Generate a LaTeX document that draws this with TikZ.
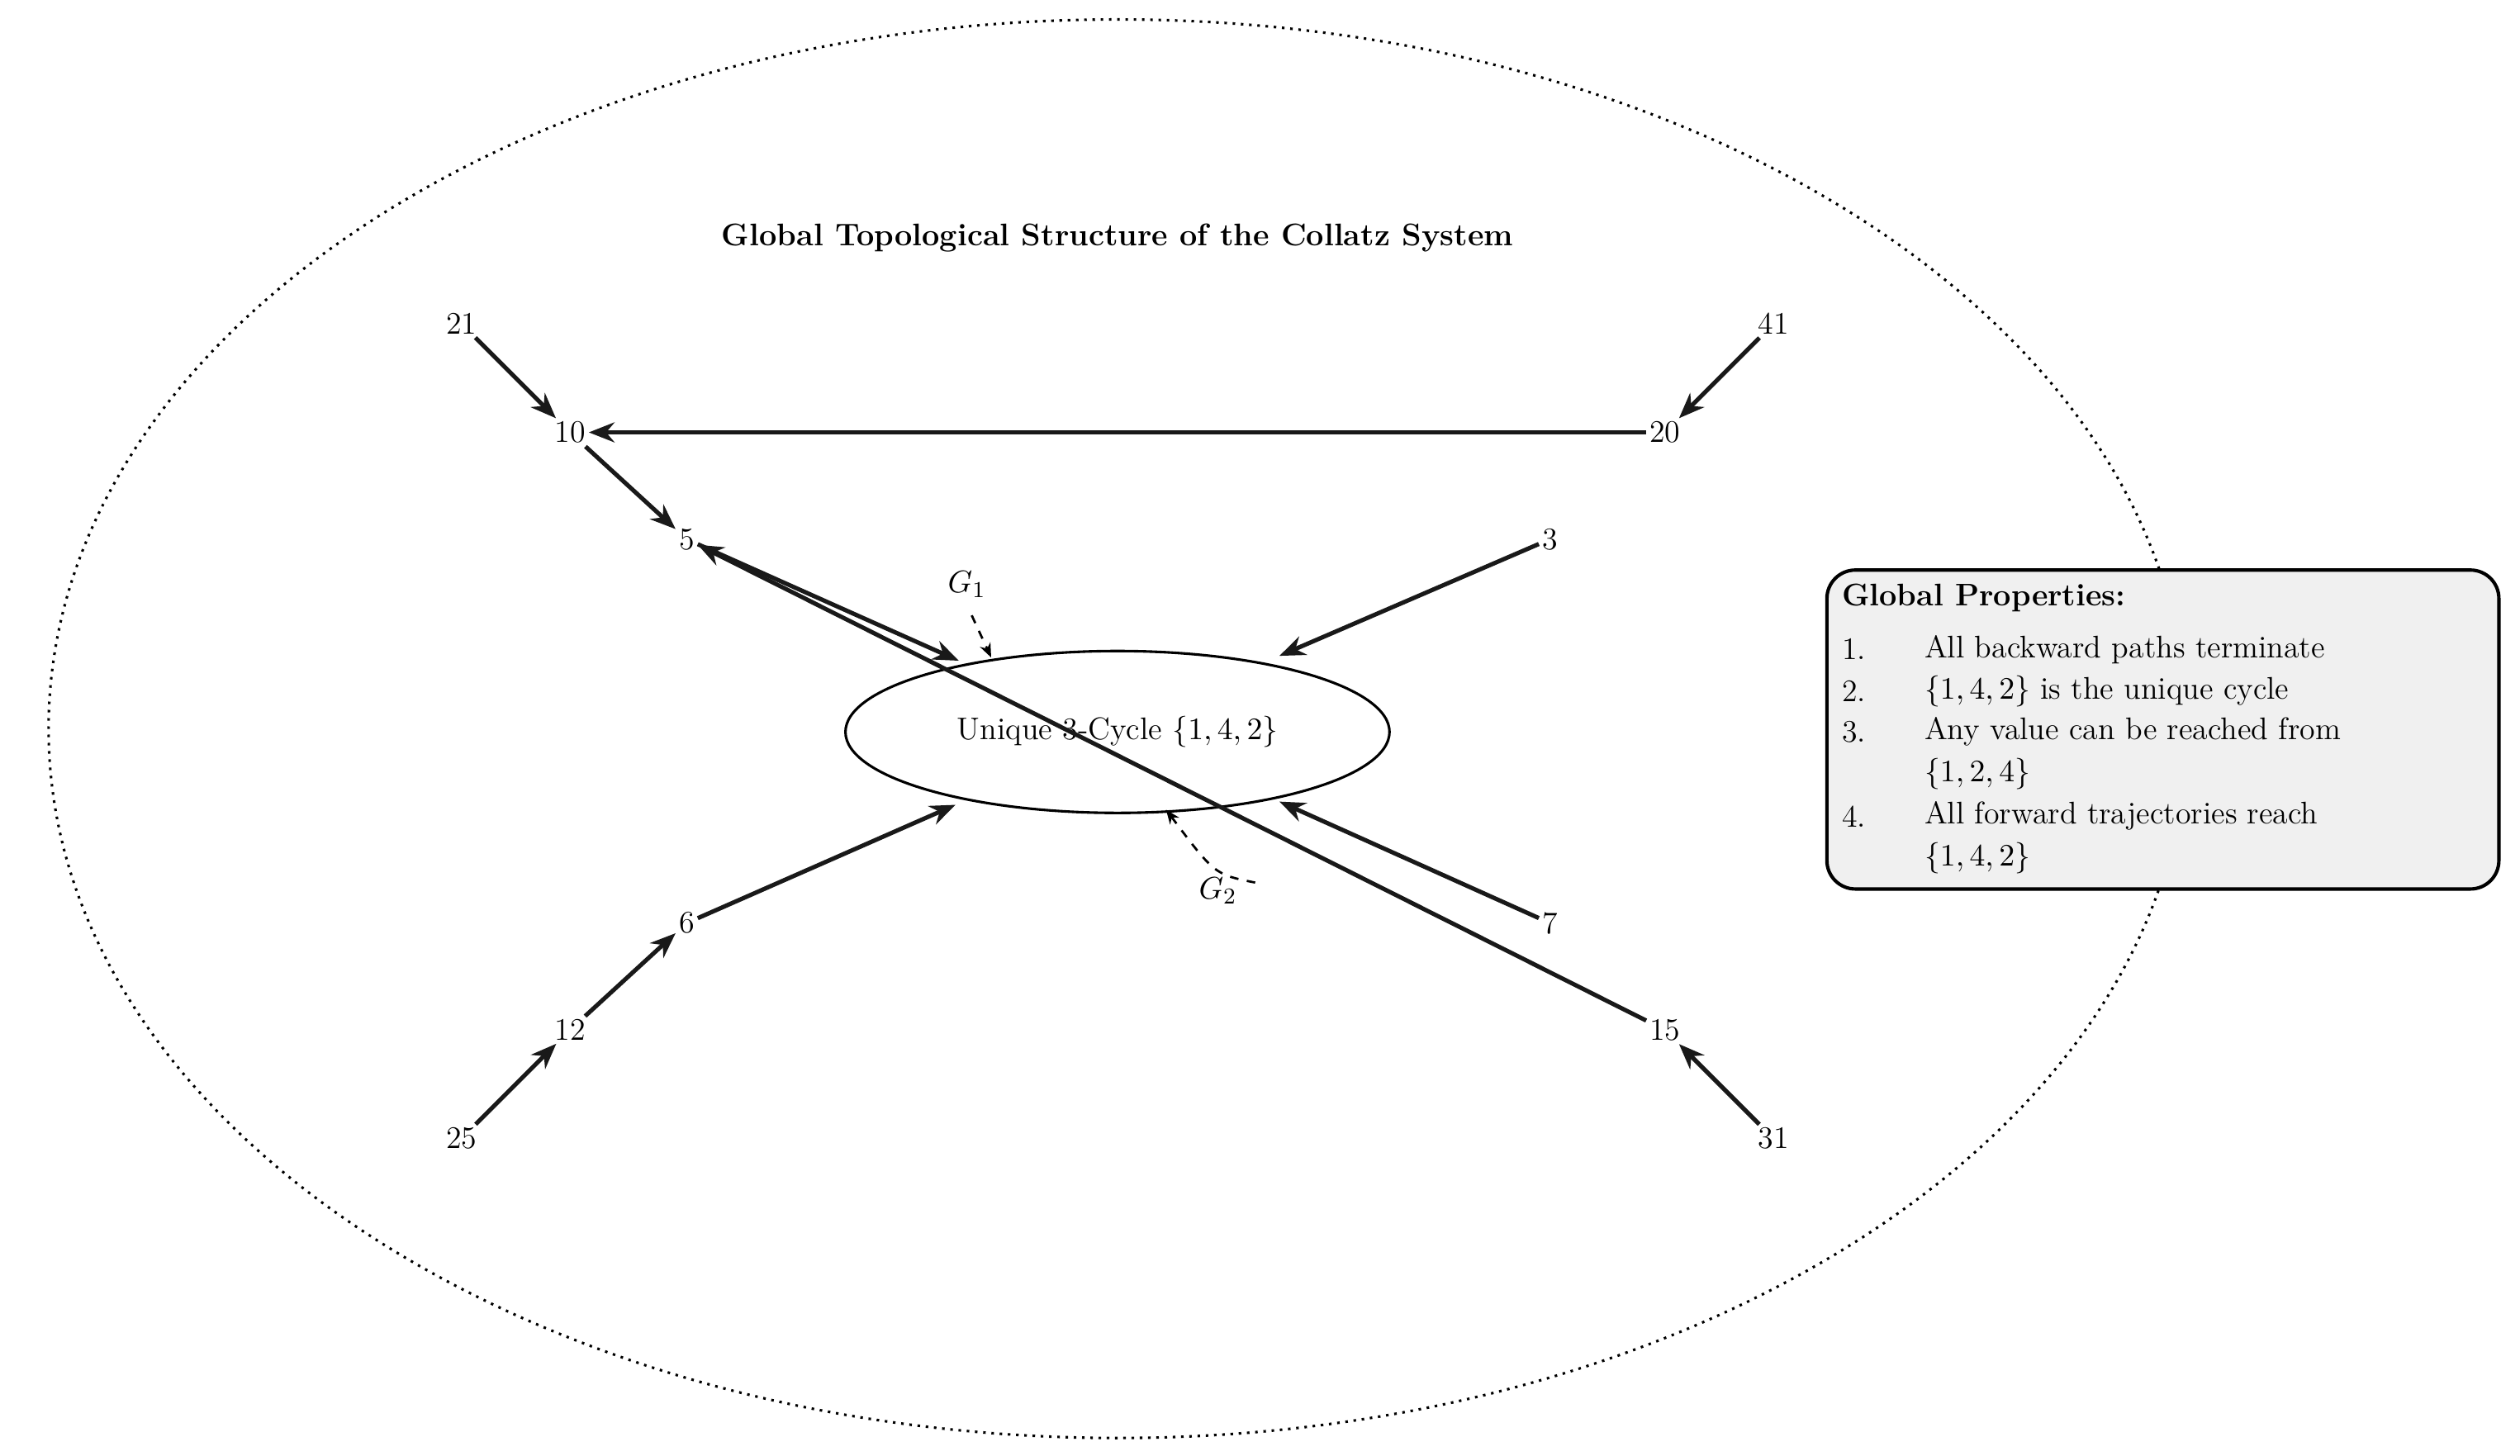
\documentclass[tikz,border=0pt]{standalone}
\usetikzlibrary{arrows.meta,shapes.geometric}
\tikzset{
 num/.style={inner sep=1pt,font=\fontsize{11}{13}\selectfont},
 arr/.style={-{Stealth[length=9pt,width=7pt]},line width=1.5pt,draw=black!90},
 dsh/.style={-{Stealth[length=5pt,width=4pt]},dashed,line width=0.8pt},
 bt/.style={anchor=west,inner sep=0pt,font=\fontsize{11}{13}\selectfont}
}
\begin{document}
\begin{tikzpicture}[x=0.02cm,y=-0.02cm]
\useasboundingbox (0,0) rectangle (1556,899);
\draw[dotted,line width=0.9pt] (690,450) ellipse [x radius=660,y radius=438];
\node[font=\fontsize{11}{13}\selectfont\bfseries] (title) at (690,147) {Global Topological Structure of the Collatz System};
\node[ellipse,draw,line width=0.9pt,inner sep=0pt,minimum width=6.72cm,minimum height=2cm,font=\fontsize{11}{13}\selectfont] (cyc) at (690,452) {Unique 3-Cycle $\{1,4,2\}$};
\node[num] (n21) at (285,200) {21};
\node[num] (n10) at (352,267) {10};
\node[num] (n5) at (424,333) {5};
\node[num] (n20) at (1028,267) {20};
\node[num] (n41) at (1095,200) {41};
\node[num] (n3) at (957,333) {3};
\node[num] (n6) at (424,570) {6};
\node[num] (n12) at (352,636) {12};
\node[num] (n25) at (285,703) {25};
\node[num] (n7) at (957,570) {7};
\node[num] (n15) at (1028,636) {15};
\node[num] (n31) at (1095,703) {31};
\coordinate (c3) at (790,405);
\coordinate (c6) at (590,497);
\coordinate (c7) at (790,495);
\coordinate (c5) at (592,408);
\draw[arr] (n21) -- (n10);
\draw[arr] (n41) -- (n20);
\draw[arr] (n20) -- (n10);
\draw[arr] (n10) -- (n5);
\draw[arr] (n3) -- (c3);
\draw[arr] (n6) -- (c6);
\draw[arr] (n12) -- (n6);
\draw[arr] (n25) -- (n12);
\draw[arr] (n7) -- (c7);
\draw[arr] (n31) -- (n15);
\draw[arr] (n15) -- (n5);
\draw[arr] (n5) -- (c5);
\node[num] (g1) at (597,361) {$G_1$};
\coordinate (g1e) at (612,406);
\draw[dsh] (600,380) -- (g1e);
\node[num] (g2) at (752,550) {$G_2$};
\coordinate (g2e) at (720,500);
\draw[dsh] (775,545) .. controls (750,540) .. (g2e);
\node[draw,rounded corners=10pt,fill=black!6,line width=1.2pt,minimum width=8.3cm,minimum height=3.94cm] (box) at (1335.5,450.5) {};
\node[bt,font=\fontsize{11}{13}\selectfont\bfseries] (bh) at (1137,369) {Global Properties:};
\node[bt] (i1) at (1137,401) {1.};
\node[bt] (t1) at (1188,401) {All backward paths terminate};
\node[bt] (i2) at (1137,427) {2.};
\node[bt] (t2) at (1188,427) {$\{1,4,2\}$ is the unique cycle};
\node[bt] (i3) at (1137,452) {3.};
\node[bt] (t3) at (1188,452) {Any value can be reached from};
\node[bt] (t3b) at (1188,478) {$\{1,2,4\}$};
\node[bt] (i4) at (1137,504) {4.};
\node[bt] (t4) at (1188,504) {All forward trajectories reach};
\node[bt] (t4b) at (1188,530) {$\{1,4,2\}$};
\end{tikzpicture}
\end{document}
